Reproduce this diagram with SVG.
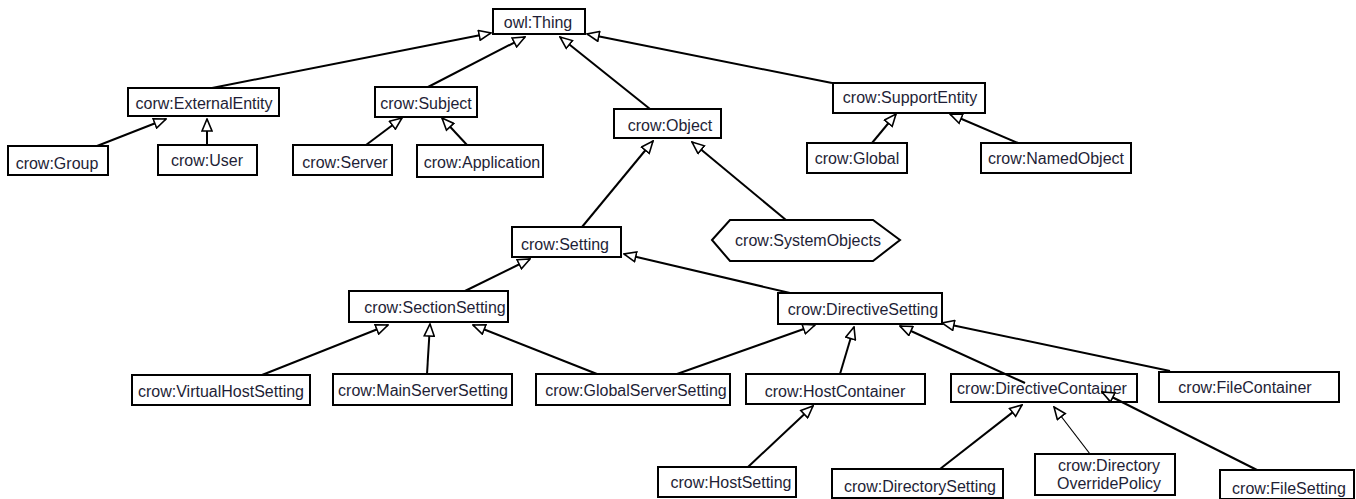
<svg xmlns="http://www.w3.org/2000/svg" width="1356" height="499" viewBox="0 0 1356 499">
<style>
.n rect, .n polygon { fill: #fff; stroke: #000; stroke-width: 2; }
.n text { font-family: "Liberation Sans", Arial, sans-serif; font-size: 16px; fill: #1e1e36; text-anchor: middle; dominant-baseline: central; }
.c line { stroke: #000; stroke-width: 2; marker-end: url(#tri); }
.c line.thin { stroke-width: 1.2; }
</style>
<defs>
<marker id="tri" viewBox="0 0 14 12" refX="13" refY="6" markerWidth="14" markerHeight="12" markerUnits="userSpaceOnUse" orient="auto">
<path d="M1,1 L13,6 L1,11 Z" fill="#fff" stroke="#000" stroke-width="1.6" stroke-linejoin="miter"/>
</marker>
</defs>
<rect width="1356" height="499" fill="#fff"/>
<g id="owlThing" class="n"><rect x="493" y="9" width="92" height="25"/><text x="538" y="22">owl:Thing</text></g>
<g id="externalEntity" class="n"><rect x="128" y="88" width="151" height="28"/><text x="204" y="103">corw:ExternalEntity</text></g>
<g id="subject" class="n"><rect x="375" y="87" width="102" height="30"/><text x="426" y="103">crow:Subject</text></g>
<g id="object" class="n"><rect x="614" y="109" width="107" height="29"/><text x="670" y="125">crow:Object</text></g>
<g id="supportEntity" class="n"><rect x="833" y="83" width="152" height="30"/><text x="910" y="97">crow:SupportEntity</text></g>
<g id="group" class="n"><rect x="8" y="146" width="100" height="29"/><text x="57" y="163">crow:Group</text></g>
<g id="user" class="n"><rect x="158" y="145" width="99" height="30"/><text x="207" y="160">crow:User</text></g>
<g id="server" class="n"><rect x="293" y="145" width="99" height="30"/><text x="345" y="162">crow:Server</text></g>
<g id="application" class="n"><rect x="417" y="145" width="126" height="32"/><text x="482" y="162">crow:Application</text></g>
<g id="global" class="n"><rect x="807" y="143" width="100" height="30"/><text x="857" y="158">crow:Global</text></g>
<g id="namedObject" class="n"><rect x="981" y="143" width="150" height="30"/><text x="1056" y="158">crow:NamedObject</text></g>
<g id="setting" class="n"><rect x="512" y="227" width="109" height="30"/><text x="565" y="244">crow:Setting</text></g>
<g id="systemObjects" class="n"><polygon points="712,240 730,220 873,220 900,240 873,261 730,261"/><text x="808" y="240">crow:SystemObjects</text></g>
<g id="sectionSetting" class="n"><rect x="349" y="291" width="159" height="31"/><text x="435" y="307">crow:SectionSetting</text></g>
<g id="directiveSetting" class="n"><rect x="778" y="293" width="164" height="31"/><text x="863" y="309">crow:DirectiveSetting</text></g>
<g id="virtualHostSetting" class="n"><rect x="132" y="375" width="178" height="30"/><text x="221" y="391">crow:VirtualHostSetting</text></g>
<g id="mainServerSetting" class="n"><rect x="333" y="374" width="179" height="31"/><text x="423" y="390">crow:MainServerSetting</text></g>
<g id="globalServerSetting" class="n"><rect x="536" y="374" width="194" height="31"/><text x="636" y="390">crow:GlobalServerSetting</text></g>
<g id="hostContainer" class="n"><rect x="746" y="374" width="179" height="30"/><text x="835" y="391">crow:HostContainer</text></g>
<g id="directiveContainer" class="n"><rect x="951" y="374" width="186" height="28"/><text x="1042" y="388">crow:DirectiveContainer</text></g>
<g id="fileContainer" class="n"><rect x="1159" y="372" width="180" height="30"/><text x="1245" y="387">crow:FileContainer</text></g>
<g id="hostSetting" class="n"><rect x="658" y="467" width="138" height="30"/><text x="731" y="482">crow:HostSetting</text></g>
<g id="directorySetting" class="n"><rect x="832" y="469" width="171" height="29"/><text x="920" y="486">crow:DirectorySetting</text></g>
<g id="directoryOverridePolicy" class="n"><rect x="1035" y="454" width="140" height="41"/><text x="1109" y="465">crow:Directory</text><text x="1109" y="483">OverridePolicy</text></g>
<g id="fileSetting" class="n"><rect x="1220" y="470" width="134" height="29"/><text x="1289" y="488">crow:FileSetting</text></g>
<g id="connectors" class="c">
<line x1="212" y1="88" x2="491" y2="33"/>
<line x1="428" y1="87" x2="525" y2="37"/>
<line x1="650" y1="109" x2="560" y2="37"/>
<line x1="832" y1="83" x2="587" y2="34"/>
<line x1="97" y1="146" x2="166" y2="119"/>
<line x1="207" y1="145" x2="207" y2="119"/>
<line x1="366" y1="145" x2="402" y2="118"/>
<line x1="467" y1="145" x2="442" y2="118"/>
<line x1="872" y1="143" x2="896" y2="114"/>
<line x1="1018" y1="143" x2="950" y2="114"/>
<line x1="582" y1="227" x2="653" y2="141"/>
<line x1="786" y1="220" x2="692" y2="142"/>
<line x1="465" y1="291" x2="530" y2="259"/>
<line x1="790" y1="293" x2="624" y2="254"/>
<line x1="262" y1="375" x2="388" y2="325"/>
<line x1="427" y1="374" x2="430" y2="324"/>
<line x1="597" y1="374" x2="473" y2="325"/>
<line x1="677" y1="374" x2="815" y2="325"/>
<line x1="840" y1="374" x2="854" y2="327"/>
<line x1="1025" y1="383" x2="900" y2="326"/>
<line x1="1170" y1="371" x2="942" y2="323"/>
<line x1="748" y1="467" x2="813" y2="406"/>
<line x1="940" y1="469" x2="1022" y2="405"/>
<line class="thin" x1="1090" y1="454" x2="1054" y2="407"/>
<line x1="1257" y1="470" x2="1102" y2="392"/>
</g>
</svg>
